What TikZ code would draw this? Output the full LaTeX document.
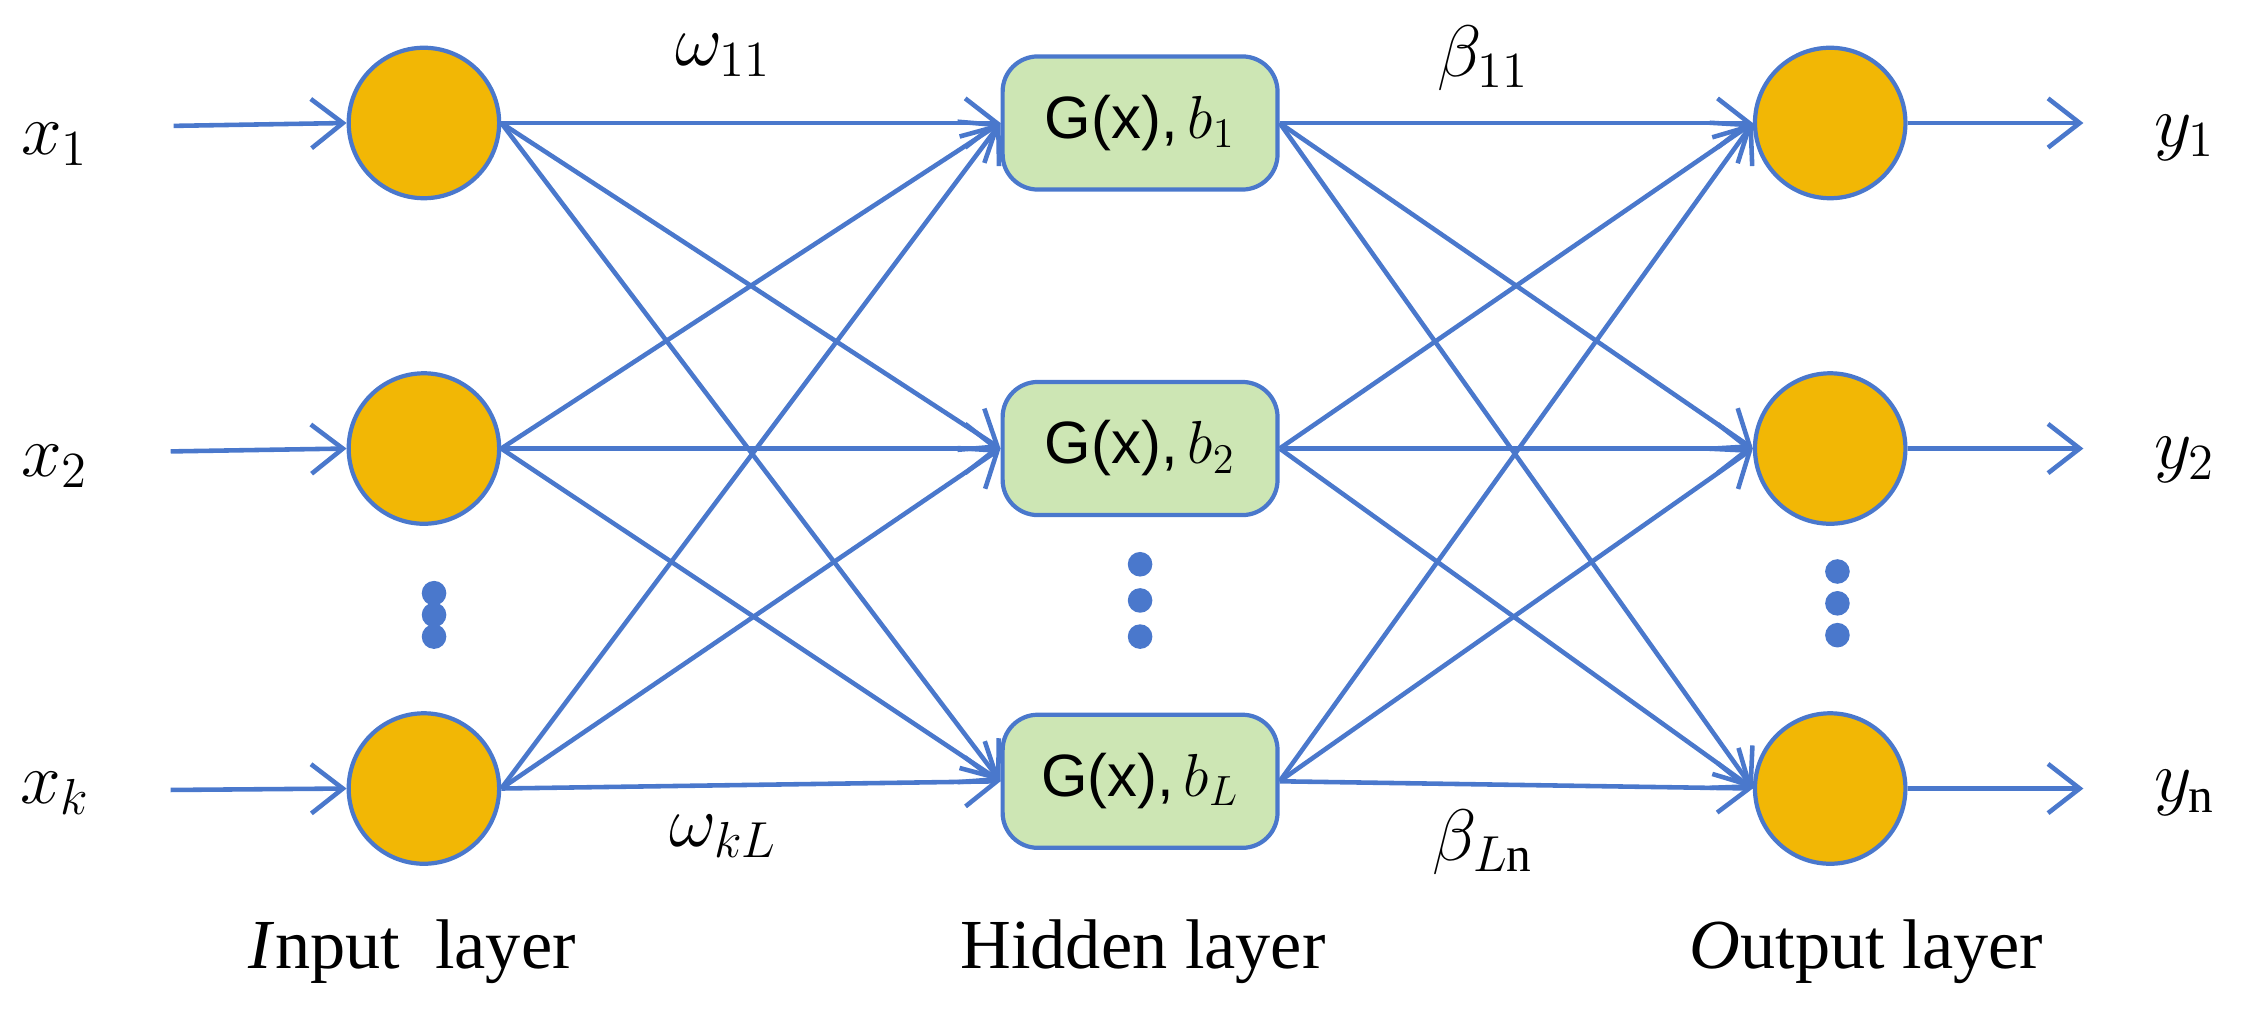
\documentclass[tikz,border=0pt]{standalone}
\usepackage{fontspec}
\setmainfont{Liberation Serif}
\newfontfamily\gsans{Liberation Sans}
\usetikzlibrary{arrows.meta}
\definecolor{ln}{HTML}{4A78CC}
\definecolor{org}{HTML}{F2B705}
\definecolor{grn}{HTML}{CDE6B4}
\begin{document}
\begin{tikzpicture}[x=0.01447cm,y=-0.01447cm,
  neu/.style={circle,draw=ln,line width=1.2pt,fill=org,minimum size=104*0.01447cm,inner sep=0},
  hid/.style={rounded corners=10pt,draw=ln,line width=1.2pt,fill=grn,minimum width=190*0.01447cm,minimum height=92*0.01447cm,inner sep=0,font=\fontsize{17}{20}\selectfont},
  con/.style={ln,line width=1.3pt,-{Straight Barb[length=9pt,width=14pt]}},
  lbl/.style={font=\fontsize{20}{24}\selectfont},
  dot/.style={circle,fill=ln,minimum size=7pt,inner sep=0}]
\useasboundingbox (0,0) rectangle (1560,712);
\foreach \n/\y in {1/85,2/310,3/545}{
  \node[neu] (i\n) at (293,\y) {};
  \node[neu] (o\n) at (1265,\y) {};
}
\node[hid] (h1) at (788,85) {{\gsans G(x),}\,$b_1$};
\node[hid] (h2) at (788,310) {{\gsans G(x),}\,$b_2$};
\node[hid] (h3) at (788,540) {{\gsans G(x),}\,$b_L$};
\foreach \a in {1,2,3}{\foreach \b in {1,2,3}{
  \draw[con] (i\a.east) -- (h\b.west);
  \draw[con] (h\a.east) -- (o\b.west);
}}
\coordinate (s1) at (120,87); \coordinate (s2) at (118,312); \coordinate (s3) at (118,546);
\coordinate (e1) at (1440,85); \coordinate (e2) at (1440,310); \coordinate (e3) at (1440,545);
\foreach \n in {1,2,3}{
  \draw[con] (s\n) -- (i\n.west);
  \draw[con] (o\n.east) -- (e\n);
}
\node[lbl] (x1) at (38,100) {$x_1$};
\node[lbl] (x2) at (38,322) {$x_2$};
\node[lbl] (x3) at (38,548) {$x_k$};
\node[lbl] (y1) at (1510,95) {$y_1$};
\node[lbl] (y2) at (1510,318) {$y_2$};
\node[lbl] (y3) at (1510,548) {$y_{\mathrm{n}}$};
\node[lbl] (w1) at (500,38) {$\omega_{11}$};
\node[lbl] (w2) at (500,578) {$\omega_{kL}$};
\node[lbl] (b1) at (1025,40) {$\beta_{11}$};
\node[lbl] (b2) at (1025,582) {$\beta_{L\mathrm{n}}$};
\node[lbl] (l1) at (285,658) {\textit{I}nput\ \ layer};
\node[lbl] (l2) at (790,658) {Hidden layer};
\node[lbl] (l3) at (1290,658) {\textit{O}utput layer};
\foreach \x/\a/\b/\c in {300/410/425/440, 788/390/415/440, 1270/395/417/439}{
  \node[dot] at (\x,\a) {}; \node[dot] at (\x,\b) {}; \node[dot] at (\x,\c) {};
}
\end{tikzpicture}
\end{document}
